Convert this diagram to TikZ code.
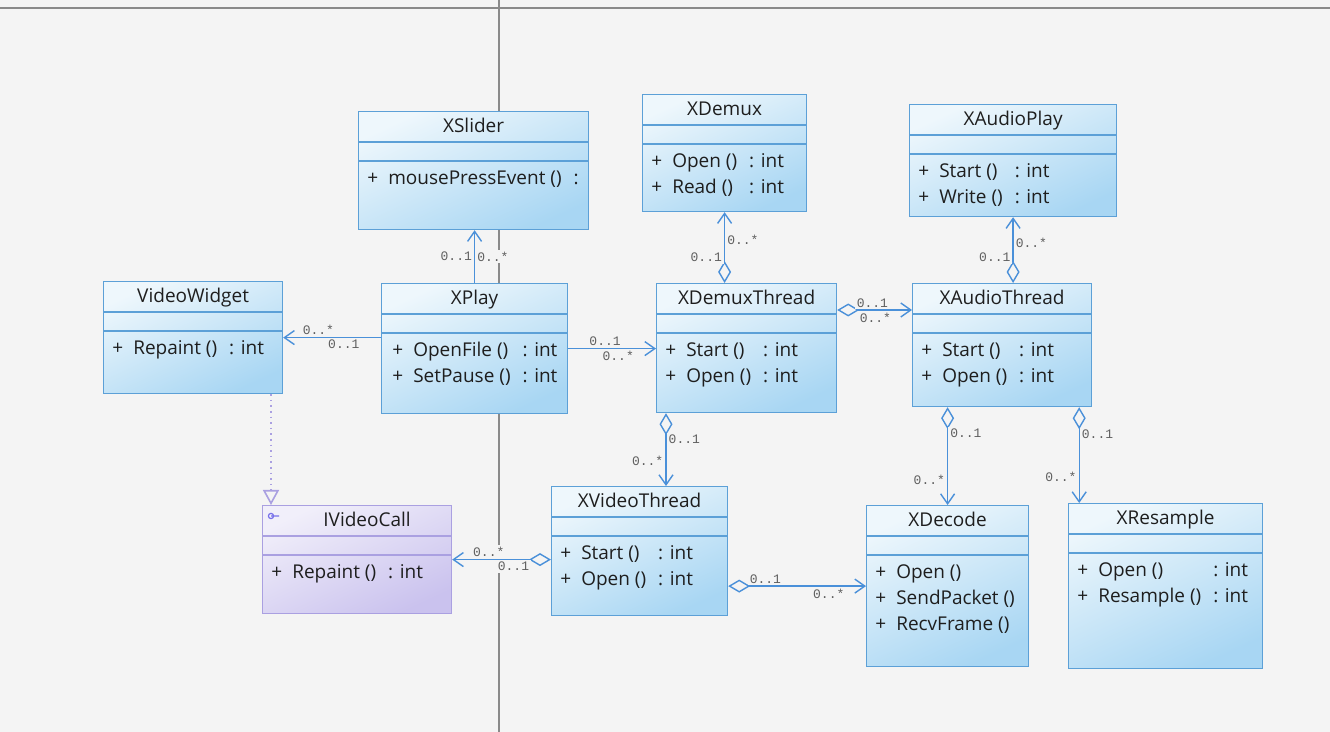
\documentclass[tikz,border=0pt]{standalone}
\usepackage{fontspec}
\setmainfont{Open Sans}
\newfontfamily\multfont{Liberation Mono}
\usetikzlibrary{arrows.meta,calc}

\definecolor{bg}{RGB}{244,244,244}
\definecolor{frameline}{RGB}{138,138,138}
\definecolor{clsline}{RGB}{92,160,215}
\definecolor{clstop}{RGB}{238,247,252}
\definecolor{clsbot}{RGB}{168,214,243}
\definecolor{ifline}{RGB}{170,160,225}
\definecolor{iftop}{RGB}{241,239,250}
\definecolor{ifbot}{RGB}{202,194,238}
\definecolor{assocline}{RGB}{74,144,217}
\definecolor{multtext}{RGB}{95,95,95}
\definecolor{textdark}{RGB}{30,30,30}

% compartment lines of a class box
\newcommand{\seps}[2]{%
  \draw[#2, line width=0.6pt] ($(#1.north west)+(0,31)$) -- ($(#1.north east)+(0,31)$);
  \draw[#2, line width=0.6pt] ($(#1.north west)+(0,50)$) -- ($(#1.north east)+(0,50)$);}
% operations list
\newcommand{\ops}[1]{\begin{tabular}{@{}l@{\hspace{5pt}}l@{\hspace{6pt}}l@{}}#1\end{tabular}}

\begin{document}
\begin{tikzpicture}[x=0.5pt,y=-0.5pt,
  cls/.style={draw=clsline, line width=0.6pt, top color=clstop, bottom color=clsbot, shading angle=25, anchor=north west, inner sep=0pt},
  iface/.style={cls, draw=ifline, top color=iftop, bottom color=ifbot, shading angle=25},
  ttl/.style={font=\fontsize{9.5}{13}\selectfont, text=textdark, text height=6.8pt, text depth=0pt, inner sep=0pt},
  opsbox/.style={font=\fontsize{9.5}{13}\selectfont, text=textdark, anchor=north west, inner sep=0pt},
  mult/.style={font=\multfont\fontsize{6.5}{7}\selectfont, text=multtext, fill=bg, inner sep=1pt},
  assoc/.style={draw=assocline, line width=0.7pt, -{Straight Barb[length=5pt,width=7pt]}},
  aggr/.style={assoc, {Diamond[open,length=11pt,width=6.5pt]}-{Straight Barb[length=5pt,width=7pt]}},
  real/.style={draw=ifline, line width=0.8pt, dotted, -{Triangle[open,length=7.5pt,width=8pt]}}]

\fill[bg] (0,0) rectangle (1330,732);
\useasboundingbox (0,0) rectangle (1330,732);
\draw[frameline, line width=1pt] (0,8) -- (1330,8);
\draw[frameline, line width=1pt] (499,0) -- (499,732);

% classes
\node[cls, minimum width=115pt, minimum height=59pt] (xslider) at (358,111) {};
\node[cls, minimum width=82pt, minimum height=58.5pt] (xdemux) at (642,94) {};
\node[cls, minimum width=103.5pt, minimum height=56pt] (xaudioplay) at (909,104) {};
\node[cls, minimum width=89.5pt, minimum height=56pt] (videowidget) at (103,281) {};
\node[cls, minimum width=93pt, minimum height=65pt] (xplay) at (381,283) {};
\node[cls, minimum width=90pt, minimum height=64.5pt] (xdemuxthread) at (656,283) {};
\node[cls, minimum width=89.5pt, minimum height=61.5pt] (xaudiothread) at (912,283) {};
\node[iface, minimum width=94.5pt, minimum height=54pt] (ivideocall) at (262,505) {};
\node[cls, minimum width=88pt, minimum height=64.5pt] (xvideothread) at (551,486) {};
\node[cls, minimum width=81pt, minimum height=80.5pt] (xdecode) at (866,505) {};
\node[cls, minimum width=97pt, minimum height=82.5pt] (xresample) at (1068,503) {};

\seps{xslider}{clsline}
\seps{xdemux}{clsline}
\seps{xaudioplay}{clsline}
\seps{videowidget}{clsline}
\seps{xplay}{clsline}
\seps{xdemuxthread}{clsline}
\seps{xaudiothread}{clsline}
\seps{ivideocall}{ifline}
\seps{xvideothread}{clsline}
\seps{xdecode}{clsline}
\seps{xresample}{clsline}

\node[ttl] (xslider-t) at ($(xslider.north)+(0,15)$) {XSlider};
\node[ttl] (xdemux-t) at ($(xdemux.north)+(0,15)$) {XDemux};
\node[ttl] (xaudioplay-t) at ($(xaudioplay.north)+(0,15)$) {XAudioPlay};
\node[ttl] (videowidget-t) at ($(videowidget.north)+(0,15)$) {VideoWidget};
\node[ttl] (xplay-t) at ($(xplay.north)+(0,15)$) {XPlay};
\node[ttl] (xdemuxthread-t) at ($(xdemuxthread.north)+(0,15)$) {XDemuxThread};
\node[ttl] (xaudiothread-t) at ($(xaudiothread.north)+(0,15)$) {XAudioThread};
\node[ttl] (ivideocall-t) at ($(ivideocall.north)+(10,15)$) {IVideoCall};
\node[ttl] (xvideothread-t) at ($(xvideothread.north)+(0,15)$) {XVideoThread};
\node[ttl] (xdecode-t) at ($(xdecode.north)+(0,15)$) {XDecode};
\node[ttl] (xresample-t) at ($(xresample.north)+(0,15)$) {XResample};

\node[opsbox] (xslider-m) at ($(xslider.north west)+(9,55)$) {\ops{+ & mousePressEvent () & :}};
\node[opsbox] (xdemux-m) at ($(xdemux.north west)+(9,55)$) {\ops{+ & Open () & : int\\ + & Read () & : int}};
\node[opsbox] (xaudioplay-m) at ($(xaudioplay.north west)+(9,55)$) {\ops{+ & Start () & : int\\ + & Write () & : int}};
\node[opsbox] (videowidget-m) at ($(videowidget.north west)+(9,55)$) {\ops{+ & Repaint () & : int}};
\node[opsbox] (xplay-m) at ($(xplay.north west)+(11,55)$) {\ops{+ & OpenFile () & : int\\ + & SetPause () & : int}};
\node[opsbox] (xdemuxthread-m) at ($(xdemuxthread.north west)+(9,55)$) {\ops{+ & Start () & : int\\ + & Open () & : int}};
\node[opsbox] (xaudiothread-m) at ($(xaudiothread.north west)+(9,55)$) {\ops{+ & Start () & : int\\ + & Open () & : int}};
\node[opsbox] (ivideocall-m) at ($(ivideocall.north west)+(9,55)$) {\ops{+ & Repaint () & : int}};
\node[opsbox] (xvideothread-m) at ($(xvideothread.north west)+(9,55)$) {\ops{+ & Start () & : int\\ + & Open () & : int}};
\node[opsbox] (xdecode-m) at ($(xdecode.north west)+(9,55)$) {\ops{+ & Open () & \\ + & SendPacket () & \\ + & RecvFrame () &}};
\node[opsbox] (xresample-m) at ($(xresample.north west)+(9,55)$) {\ops{+ & Open () & : int\\ + & Resample () & : int}};

% interface icon
\draw[ifline!70!blue, line width=0.6pt] ($(ivideocall.north west)+(9,11)$) circle (1.3pt) -- ++(8,0);

% associations
\draw[assoc] (xplay.north) -- (xplay.north |- xslider.south)
  node[mult, pos=0.5, left] {0..1} node[mult, pos=0.5, right] {0..*};
\draw[assoc] (xplay.west |- videowidget.east) -- (videowidget.east)
  node[mult, pos=0.64, above] {0..*} node[mult, pos=0.38, below] {0..1};
\draw[assoc] (xplay.east) -- (xplay.east -| xdemuxthread.west)
  node[mult, pos=0.42, above] {0..1} node[mult, pos=0.57, below] {0..*};
\draw[aggr] (xdemuxthread.north -| xdemux.south) -- (xdemux.south)
  node[mult, pos=0.61, right] {0..*} node[mult, pos=0.36, left] {0..1};
\draw[aggr] ($(xdemuxthread.north east)+(0,27)$) coordinate (dt-e) -- (dt-e -| xaudiothread.west)
  node[mult, pos=0.47, above] {0..1} node[mult, pos=0.51, below] {0..*};
\draw[aggr] (xaudiothread.north -| xaudioplay.south) -- (xaudioplay.south)
  node[mult, pos=0.61, right] {0..*} node[mult, pos=0.39, left] {0..1};
\draw[aggr] ($(xdemuxthread.south west)+(10,0)$) coordinate (dt-s) -- (dt-s |- xvideothread.north)
  node[mult, pos=0.36, right] {0..1} node[mult, pos=0.65, left] {0..*};
\draw[aggr] (xvideothread.west |- ivideocall.east) -- (ivideocall.east)
  node[mult, pos=0.63, above] {0..*} node[mult, pos=0.38, below] {0..1};
\draw[aggr] (xvideothread.east |- xdecode.west) -- (xdecode.west)
  node[mult, pos=0.27, above] {0..1} node[mult, pos=0.73, below] {0..*};
\draw[aggr] (xaudiothread.south -| xdecode.north) -- (xdecode.north)
  node[mult, pos=0.27, right] {0..1} node[mult, pos=0.74, left] {0..*};
\draw[aggr] ($(xaudiothread.south east)+(-13,0)$) coordinate (at-s) -- (at-s |- xresample.north)
  node[mult, pos=0.28, right] {0..1} node[mult, pos=0.73, left] {0..*};

% realization
\coordinate (ic-n) at ($(ivideocall.north west)+(9,0)$);
\draw[real] (ic-n |- videowidget.south) -- (ic-n);

\end{tikzpicture}
\end{document}
